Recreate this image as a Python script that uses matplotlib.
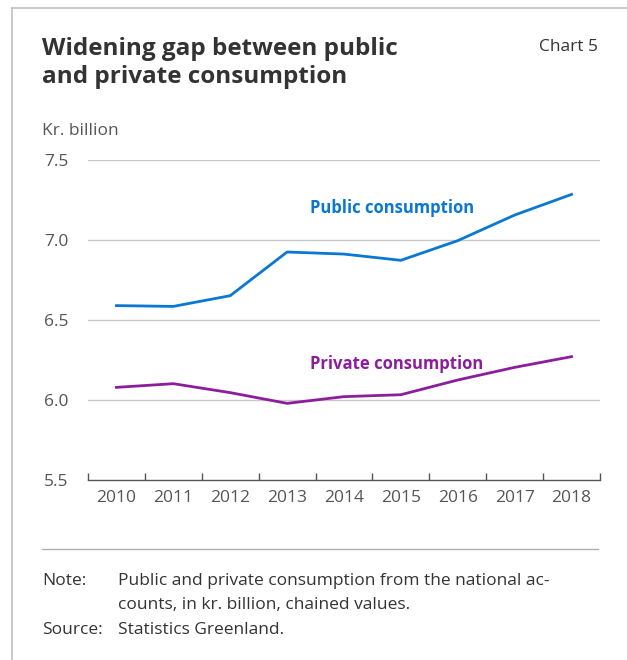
import numpy as np
import matplotlib.pyplot as plt
from matplotlib.lines import Line2D

# Data (kr. billion, chained values)
years = ['2010', '2011', '2012', '2013', '2014', '2015', '2016', '2017', '2018']
public = [6.59, 6.585, 6.652, 6.925, 6.912, 6.873, 6.996, 7.156, 7.285]
private = [6.079, 6.102, 6.046, 5.979, 6.021, 6.033, 6.125, 6.204, 6.271]
yticks = [5.5, 6.0, 6.5, 7.0, 7.5]

blue = '#0a78d2'
purple = '#8c1e9c'
grey_txt = '#555555'
dark_txt = '#333333'
fs = 12.5

plt.rcParams['font.family'] = ['Open Sans', 'DejaVu Sans']

fig = plt.figure(figsize=(6.27, 6.6), dpi=100)
ax = fig.add_axes([88/627, 1 - 480/660, 512/627, 320/660])

x = np.arange(len(years))
ax.plot(x, public, color=blue, linewidth=2.0, solid_joinstyle='round')
ax.plot(x, private, color=purple, linewidth=2.0, solid_joinstyle='round')

ax.text(3.4, 7.2, 'Public consumption', color=blue, fontsize=12,
        fontweight='bold', va='center', ha='left')
ax.text(3.4, 6.225, 'Private consumption', color=purple, fontsize=12,
        fontweight='bold', va='center', ha='left')

ax.set_xlim(-0.5, len(years) - 0.5)
ax.set_ylim(5.5, 7.5)
ax.set_xticks(x)
ax.set_xticklabels(years)
ax.set_xticks(np.arange(-0.5, len(years)), minor=True)
ax.set_yticks(yticks)
ax.set_yticklabels(['%.1f' % v for v in yticks])

for v in yticks[1:]:
    ax.axhline(v, color='#c8c8c8', linewidth=1.0, zorder=0)

for s in ['top', 'right', 'left']:
    ax.spines[s].set_visible(False)
ax.spines['bottom'].set_color('#555555')
ax.spines['bottom'].set_linewidth(1.0)

ax.tick_params(axis='x', which='major', length=0, pad=7, labelsize=fs,
               labelcolor=grey_txt)
ax.tick_params(axis='x', which='minor', direction='in', length=5,
               color='#555555', width=1.0)
ax.tick_params(axis='y', length=0, pad=14, labelsize=fs, labelcolor=grey_txt)

# Titles and notes
fig.text(42/627, 1 - 49/660, 'Widening gap between public', fontsize=17.5,
         fontweight='bold', color=dark_txt, va='center')
fig.text(42/627, 1 - 77/660, 'and private consumption', fontsize=17.5,
         fontweight='bold', color=dark_txt, va='center')
fig.text(598/627, 1 - 47/660, 'Chart 5', fontsize=fs, color=dark_txt,
         ha='right', va='center')
fig.text(42/627, 1 - 131/660, 'Kr. billion', fontsize=fs, color=grey_txt,
         va='center')

fig.add_artist(Line2D([42/627, 598/627], [1 - 549/660, 1 - 549/660],
                      color='#b0b0b0', linewidth=1.0))
fig.text(42/627, 1 - 581/660, 'Note:', fontsize=fs, color=dark_txt, va='center')
fig.text(118/627, 1 - 581/660, 'Public and private consumption from the national ac-',
         fontsize=fs, color=dark_txt, va='center')
fig.text(118/627, 1 - 605/660, 'counts, in kr. billion, chained values.',
         fontsize=fs, color=dark_txt, va='center')
fig.text(42/627, 1 - 630/660, 'Source:', fontsize=fs, color=dark_txt, va='center')
fig.text(118/627, 1 - 630/660, 'Statistics Greenland.', fontsize=fs,
         color=dark_txt, va='center')

# Frame (top and left edges)
fig.add_artist(Line2D([12/627, 1.0], [1 - 8/660, 1 - 8/660],
                      color='#c0c0c0', linewidth=1.2))
fig.add_artist(Line2D([12/627, 12/627], [0.0, 1 - 8/660],
                      color='#c0c0c0', linewidth=1.2))

fig.savefig('out.png', dpi=100)
